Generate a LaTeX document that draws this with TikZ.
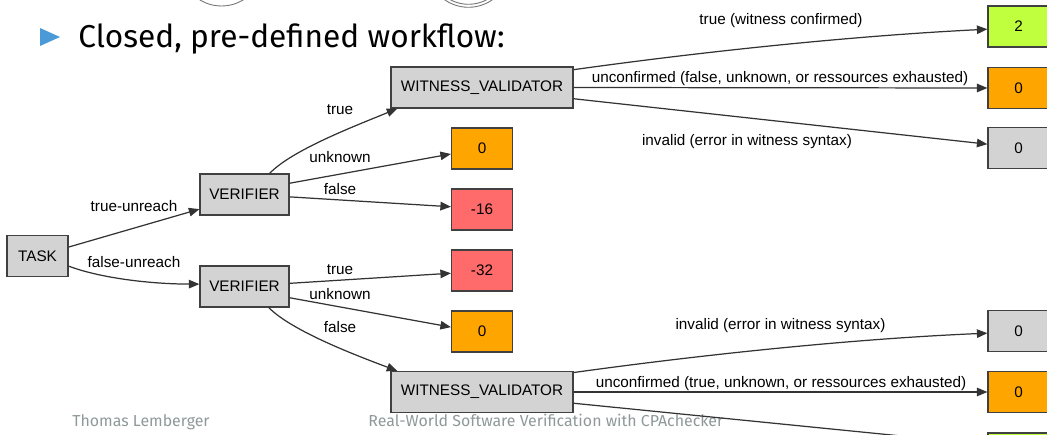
\documentclass[tikz,border=0pt]{standalone}
\usepackage{fontspec}
\setmainfont{Fira Sans}
\newfontfamily\graphfont{Liberation Sans}
\usetikzlibrary{arrows.meta, positioning, calc}
\definecolor{nodegray}{HTML}{D3D3D3}
\definecolor{scoreorange}{HTML}{FFA500}
\definecolor{scorered}{HTML}{FF6A6A}
\definecolor{scoregreen}{HTML}{C0FF3E}
\definecolor{bulletblue}{HTML}{4A9AD8}
\definecolor{footgray}{HTML}{8F9999}
\tikzstyle{tool} = [rectangle, minimum height=0.82cm, text centered, inner sep=0pt, draw=black!75, fill=nodegray, line width=0.7pt, font={\graphfont\fontsize{8.7}{10}\selectfont}]
\tikzstyle{score} = [tool, minimum width=1.22cm]
\tikzstyle{arrow} = [line width=0.7pt, draw=black!80, -{Triangle[length=0.21cm, width=0.17cm]}]
\tikzstyle{lbl} = [inner sep=0pt, font={\graphfont\fontsize{8.7}{10}\selectfont}]
\tikzstyle{foot} = [inner sep=0pt, text=footgray, font={\fontsize{9.05}{11}\selectfont}]

\begin{document}
\begin{tikzpicture}[x=0.02cm, y=-0.02cm]
    \useasboundingbox (0,0) rectangle (1047,435);

    % Leftovers of the picture above
    \draw[black!55, line width=0.5pt] (221.5,-35.5) circle[radius=41.5];
    \draw[black!55, line width=0.5pt] (468.5,-34.2) circle[radius=41.5];
    \draw[black!55, line width=0.5pt] (468.5,-34.2) circle[radius=38.5];

    % Headline
    \fill[bulletblue] (40,28) -- (60,37) -- (40,46) -- cycle;
    \node (title) [anchor=base west, inner sep=0pt, font=\fontsize{18}{21}\selectfont] at (78,48) {Closed, pre-defined workflow:};

    % Footer
    \node (author) [foot, anchor=base] at (141,426) {Thomas Lemberger};
    \node (talk) [foot, anchor=base west] at (368,426) {Real-World Software Verification with CPAchecker};

    % Tools
    \node (task) [tool, minimum width=1.22cm] at (37.5,256) {TASK};
    \node (ver1) [tool, minimum width=1.78cm] at (244.5,194.5) {VERIFIER};
    \node (ver2) [tool, minimum width=1.78cm] at (244.5,286.5) {VERIFIER};
    \node (val1) [tool, minimum width=3.64cm] at (482,87.5) {WITNESS\_VALIDATOR};
    \node (val2) [tool, minimum width=3.64cm] at (482,392) {WITNESS\_VALIDATOR};

    % Scores of the verifiers
    \node (unk1) [score, fill=scoreorange] at (482,148.5) {0};
    \node (fls1) [score, fill=scorered] at (482,209.5) {-16};
    \node (tru2) [score, fill=scorered] at (482,270.5) {-32};
    \node (unk2) [score, fill=scoreorange] at (482,331.5) {0};

    % Scores of the validators
    \node (conf1) [score, fill=scoregreen] at (1018.5,26.5) {2};
    \node (uncf1) [score, fill=scoreorange] at (1018.5,88) {0};
    \node (inv1) [score] at (1018.5,148) {0};
    \node (inv2) [score] at (1018.5,331) {0};
    \node (uncf2) [score, fill=scoreorange] at (1018.5,392) {0};
    \node (conf2) [score, fill=scoregreen] at (1018.5,453.5) {};

    % Arrows
    \draw[arrow] (task.16) -- (ver1.198);
    \draw[arrow] (task.-18) .. controls (100,278) and (150,284) .. (ver2.177);
    \draw[arrow] (ver1.40) .. controls (292,150) and (355,126) .. (val1.194);
    \draw[arrow] (ver1.14) -- (unk1.190);
    \draw[arrow] (ver1.-3) -- (fls1.175);
    \draw[arrow] (ver2.4) -- (tru2.185);
    \draw[arrow] (ver2.-14) -- (unk2.172);
    \draw[arrow] (ver2.-41) .. controls (292,331) and (355,355) .. (val2.166);
    \draw[arrow] (val1.11) .. controls (700,52) and (850,36) .. (conf1.185);
    \draw[arrow] (val1.east) -- (uncf1.west);
    \draw[arrow] (val1.-7) -- (inv1.173);
    \draw[arrow] (val2.12) .. controls (700,355) and (850,339) .. (inv2.184);
    \draw[arrow] (val2.east) -- (uncf2.west);
    \draw[arrow] (val2.-7) -- (conf2.164);

    % Labels
    \node (l-tu) [lbl] at (134,206) {true-unreach};
    \node (l-fu) [lbl] at (134,262) {false-unreach};
    \node (l-t1) [lbl] at (340,110) {true};
    \node (l-u1) [lbl] at (340,157) {unknown};
    \node (l-f1) [lbl] at (340,189.5) {false};
    \node (l-t2) [lbl] at (340,269.5) {true};
    \node (l-u2) [lbl] at (340,294) {unknown};
    \node (l-f2) [lbl] at (340,327.5) {false};
    \node (l-c1) [lbl] at (781,21) {true (witness confirmed)};
    \node (l-n1) [lbl] at (780,78.5) {unconfirmed (false, unknown, or ressources exhausted)};
    \node (l-i1) [lbl] at (747,142) {invalid (error in witness syntax)};
    \node (l-i2) [lbl] at (780.5,326) {invalid (error in witness syntax)};
    \node (l-n2) [lbl] at (781,383.5) {unconfirmed (true, unknown, or ressources exhausted)};
\end{tikzpicture}
\end{document}
